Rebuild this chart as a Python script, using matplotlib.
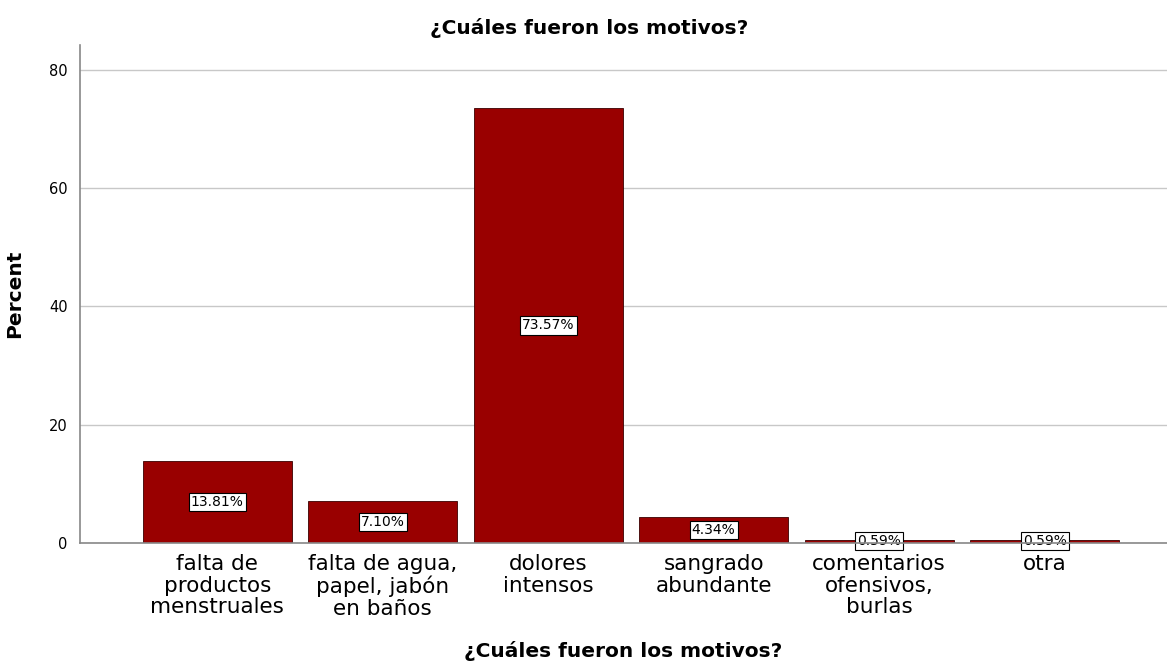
import matplotlib.pyplot as plt
import numpy as np

categories = [
    "falta de\nproductos\nmenstruales",
    "falta de agua,\npapel, jabón\nen baños",
    "dolores\nintensos",
    "sangrado\nabundante",
    "comentarios\nofensivos,\nburlas",
    "otra",
]
percent = [13.81, 7.10, 73.57, 4.34, 0.59, 0.59]
yticks = [0, 20, 40, 60, 80]

title = "¿Cuáles fueron los motivos?"

fig = plt.figure(figsize=(11.67, 6.66), dpi=100)
ax = fig.add_axes([80 / 1167, 1 - 543 / 666, 1087 / 1167, 498 / 666])

x = np.arange(len(categories))
ax.bar(x, percent, width=0.9, color="#990000", edgecolor="#3a0000", linewidth=0.6, zorder=3)

for xi, v in zip(x, percent):
    ax.text(xi, v / 2, f"{v:.2f}%", ha="center", va="center", fontsize=10, zorder=4,
            bbox=dict(boxstyle="square,pad=0.15", fc="white", ec="black", lw=0.8))

ax.set_xlim(-0.83, 5.74)
ax.set_ylim(0, 84.2)
ax.set_yticks(yticks)
ax.set_xticks(x)
ax.set_xticklabels(categories, fontsize=15.5, linespacing=1.1)
ax.tick_params(axis="x", length=0, pad=8)
ax.tick_params(axis="y", length=0, labelsize=10.5, pad=9)
ax.yaxis.grid(True, color="#c8c8c8", lw=1, zorder=0)
for s in ("top", "right"):
    ax.spines[s].set_visible(False)
for s in ("left", "bottom"):
    ax.spines[s].set_color("#888888")
    ax.spines[s].set_linewidth(1.2)
ax.spines["bottom"].set_zorder(5)

ax.set_ylabel("Percent", fontsize=14.5, fontweight="bold", labelpad=18)
ax.set_xlabel(title, fontsize=14.5, fontweight="bold", labelpad=16)
fig.text(589 / 1167, 1 - 28 / 666, title, fontsize=14.5, fontweight="bold",
         ha="center", va="center")

fig.savefig("out.png", dpi=100)
